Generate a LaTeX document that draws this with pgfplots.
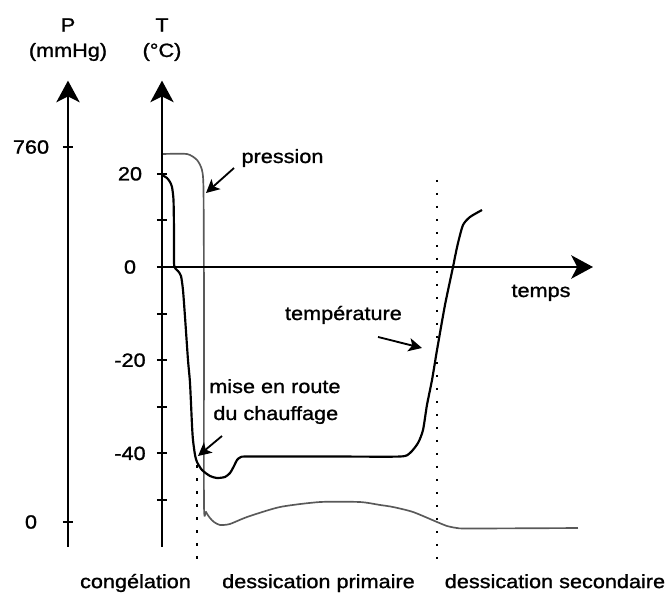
\documentclass[border=0pt]{standalone}
\usepackage{pgfplots}
\pgfplotsset{compat=1.18}
\usetikzlibrary{arrows.meta}
\usepackage{fontspec}
\setmainfont{Liberation Sans}[FakeStretch=1.13, FakeBold=1.2]
\tikzset{annot/.style={line width=1.1pt, -{Stealth[length=8pt,width=8pt,inset=2pt]}},
  bigarrow/.style={-{Stealth[length=13pt,width=14pt,inset=3.5pt]}}}
\begin{document}
\begin{tikzpicture}[font=\fontsize{11.5}{14}\selectfont]
\useasboundingbox (-97.2pt,-29.04pt) rectangle (305.4pt,327.96pt);
\pgfplotsset{
  common/.style={scale only axis, height=279.6pt, anchor=south west, clip=false,
    axis line style={line width=1.2pt},
    tick style={line width=1.2pt, black},
    major tick length=6pt, tick align=outside,
    /pgf/number format/assume math mode=true,
    yticklabel style={anchor=center, font=\fontsize{11.5}{14}\selectfont},
  },
  pressure/.style={line width=1pt, black!65, smooth, tension=0.4},
  temp/.style={line width=1.3pt, black, smooth, tension=0.4},
  sep/.style={line width=1.3pt, black, dash pattern=on 1.5pt off 6.3pt},
}
% ---- pressure axis (mmHg)
\begin{axis}[common, at={(-56.4pt,0pt)}, width=315pt,
  xmin=-21.81, xmax=100, ymin=-49.86, ymax=894.6,
  axis x line=none, axis y line=left,
  y axis line style={bigarrow},
  every outer y axis line/.append style={bigarrow},
  xtick=\empty,
  ytick={0,760}, yticklabels={0,760}, yticklabel style={xshift=-19.2pt}]
\addplot[pressure] coordinates {
 (0,745.8) (5.8,745.8) (8.12,733.7) (9.28,713.4) (9.63,672.9) (9.74,449.9)
 (9.74,38.5) (10.21,20.3) (11.14,8.1) (12.06,0) (13.46,-6.1) (15.78,-4)
 (19.72,10.1) (27.38,30.4) (36.66,40.5) (45.94,40.5) (50.58,34.5) (53.60,30.4)
 (58.24,20.3) (63.81,0) (66.13,-8.1) (68.45,-12.2) (71.46,-13.2) (96.52,-12.2)
};
\end{axis}
% ---- temperature axis (degC)
\begin{axis}[common, at={(0pt,0pt)}, width=258.6pt,
  xmin=0, xmax=100, ymin=-60, ymax=40,
  axis x line=middle, axis y line=left,
  y axis line style={bigarrow},
  every outer y axis line/.append style={bigarrow},
  x axis line style={bigarrow},
  xtick=\empty,
  ytick={-50,-40,...,20}, yticklabels={,-40,,-20,,0,,20},
  yticklabel style={xshift=-16.2pt}]
\addplot[temp] coordinates {
 (0,19.74) (1.16,19.10) (1.86,18.24) (2.32,17.17) (2.67,14.38) (2.78,7.94)
 (2.78,1.07) (3.02,-0.21) (3.71,-0.86) (4.41,-1.93) (4.87,-4.94) (5.34,-10.73)
 (6.03,-19.96) (6.50,-24.89) (6.96,-33.91) (7.19,-37.12) (7.66,-40.34)
 (8.12,-41.85) (9.28,-43.56) (11.14,-44.85) (12.76,-45.28) (14.62,-45.06)
 (15.78,-44.21) (16.71,-42.70) (17.40,-41.42) (18.33,-40.77) (20.42,-40.67)
 (40,-40.67) (55.22,-40.67) (57.54,-39.91) (59.40,-37.77) (60.56,-34.98)
 (61.48,-29.61) (62.65,-24.25) (63.81,-17.81) (65.66,-8.15) (67.52,0)
 (67.98,2.15) (68.68,5.15) (69.84,9.01) (71.46,10.73) (74.25,12.23)
};
\addplot[sep] coordinates {(8.12,-42.5) (8.12,-63.5)};
\addplot[sep] coordinates {(63.81,18.67) (63.81,-63.3)};
% axis titles
\node at (axis cs:-21.81,51.93) {P};
\node at (axis cs:-21.81,46.14) {(mmHg)};
\node at (axis cs:0,51.93) {T};
\node at (axis cs:0,46.14) {(°C)};
% annotations
\node[anchor=base] at (axis cs:27.96,22.32) {pression};
\draw[annot] (axis cs:16.71,21.24) -- (axis cs:10.21,15.88);
\node[anchor=base] at (axis cs:42.1,-11.37) {température};
\draw[annot] (axis cs:50.12,-15.02) -- (axis cs:60.32,-17.38);
\node[anchor=base] at (axis cs:26.2,-27.04) {mise en route};
\node[anchor=base] at (axis cs:26.4,-32.83) {du chauffage};
\draw[annot] (axis cs:13.92,-36.27) -- (axis cs:8.35,-40.56);
\node[anchor=base] at (axis cs:87.94,-6.44) {temps};
% phases
\node[anchor=base] at (axis cs:-6.15,-68.9) {congélation};
\node[anchor=base] at (axis cs:36.31,-68.9) {dessication primaire};
\node[anchor=base] at (axis cs:91.18,-68.9) {dessication secondaire};
\end{axis}
\end{tikzpicture}
\end{document}
